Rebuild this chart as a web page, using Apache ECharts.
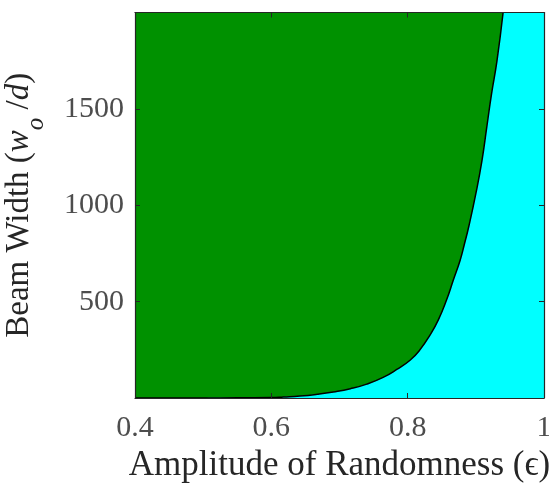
<!DOCTYPE html>
<html><head><meta charset="utf-8">
<script src="https://cdn.jsdelivr.net/npm/echarts@6/dist/echarts.min.js"></script>
<style>html,body{margin:0;padding:0;background:#fff}#c{width:549px;height:483px}</style>
</head><body><div id="c"></div>
<script>
// boundary curve: amplitude of randomness vs beam width
const epsilon = [0.40, 0.50, 0.55, 0.60, 0.618, 0.642, 0.667, 0.691, 0.716, 0.740, 0.764, 0.784, 0.8035, 0.818, 0.833, 0.845, 0.857, 0.867, 0.877, 0.883, 0.890, 0.900, 0.909, 0.916, 0.923, 0.931, 0.940];
const beamWidth = [0, 0.3, 1, 2, 5, 10, 19, 31, 48, 72, 107, 148, 196, 250, 328, 405, 508, 612, 715, 795, 895, 1060, 1232, 1404, 1577, 1749, 2000];
const xTicks = [0.4, 0.6, 0.8, 1];
const yTicks = [500, 1000, 1500];

const FONT = 'Liberation Serif';
const AX = '#262626';
const TICKC = '#4d4d4d';

const chart = echarts.init(document.getElementById('c'), null, {renderer: 'canvas'});
const pairs = epsilon.map((e, i) => [e, beamWidth[i]]);

const baseX = {
  type: 'value', min: xTicks[0], max: xTicks[xTicks.length - 1], interval: 0.2,
  z: 10,
  axisLine: {show: true, onZero: false, lineStyle: {color: AX, width: 1.2}},
  axisTick: {show: true, inside: true, length: 5, lineStyle: {color: AX}},
  splitLine: {show: false}
};
const baseY = {
  type: 'value', min: 0, max: 2000, interval: 500,
  z: 10,
  axisLine: {show: true, onZero: false, lineStyle: {color: AX, width: 1.2}},
  axisTick: {show: true, inside: true, length: 5, lineStyle: {color: AX}},
  splitLine: {show: false}
};

chart.setOption({
  animation: false,
  backgroundColor: '#ffffff',
  grid: {left: 135, right: 5, top: 12.5, bottom: 85, show: true, backgroundColor: '#00ffff', borderWidth: 0,
         containLabel: false, outerBoundsMode: 'none'},
  xAxis: [
    Object.assign({}, baseX, {
      position: 'bottom',
      axisLabel: {show: true, margin: 15, fontFamily: FONT, fontSize: 30, color: TICKC,
        formatter: v => xTicks.some(t => Math.abs(t - v) < 1e-9) ? String(+v.toFixed(1)) : ''},
      name: 'Amplitude of Randomness (ϵ)',
      nameLocation: 'middle', nameGap: 50,
      nameTextStyle: {fontFamily: FONT, fontSize: 35, color: AX}
    }),
    Object.assign({}, baseX, {position: 'top', axisLabel: {show: false}})
  ],
  yAxis: [
    Object.assign({}, baseY, {
      position: 'left',
      axisLabel: {show: true, margin: 11, fontFamily: FONT, fontSize: 30, color: TICKC,
        formatter: v => yTicks.indexOf(v) >= 0 ? String(v) : ''},
      name: '{n|Beam Width (}{i|w}{s|o}{n| /}{i|d}{n|)}',
      nameLocation: 'middle', nameGap: 86, nameRotate: 90,
      nameTextStyle: {
        fontFamily: FONT, fontSize: 33, color: AX,
        rich: {
          n: {fontFamily: FONT, fontSize: 33, color: AX, lineHeight: 46, verticalAlign: 'top'},
          i: {fontFamily: FONT, fontSize: 33, color: AX, fontStyle: 'italic', lineHeight: 46, verticalAlign: 'top'},
          s: {fontFamily: FONT, fontSize: 25, color: AX, fontStyle: 'italic', lineHeight: 25, verticalAlign: 'bottom'}
        }
      }
    }),
    Object.assign({}, baseY, {position: 'right', axisLabel: {show: false}})
  ],
  series: [{
    type: 'line',
    data: pairs,
    xAxisIndex: 0, yAxisIndex: 0,
    showSymbol: false, symbol: 'none',
    smooth: 0.5,
    lineStyle: {color: '#000000', width: 1.5},
    areaStyle: {color: '#009100', opacity: 1, origin: 'end'},
    z: 2
  }]
});
</script></body></html>
